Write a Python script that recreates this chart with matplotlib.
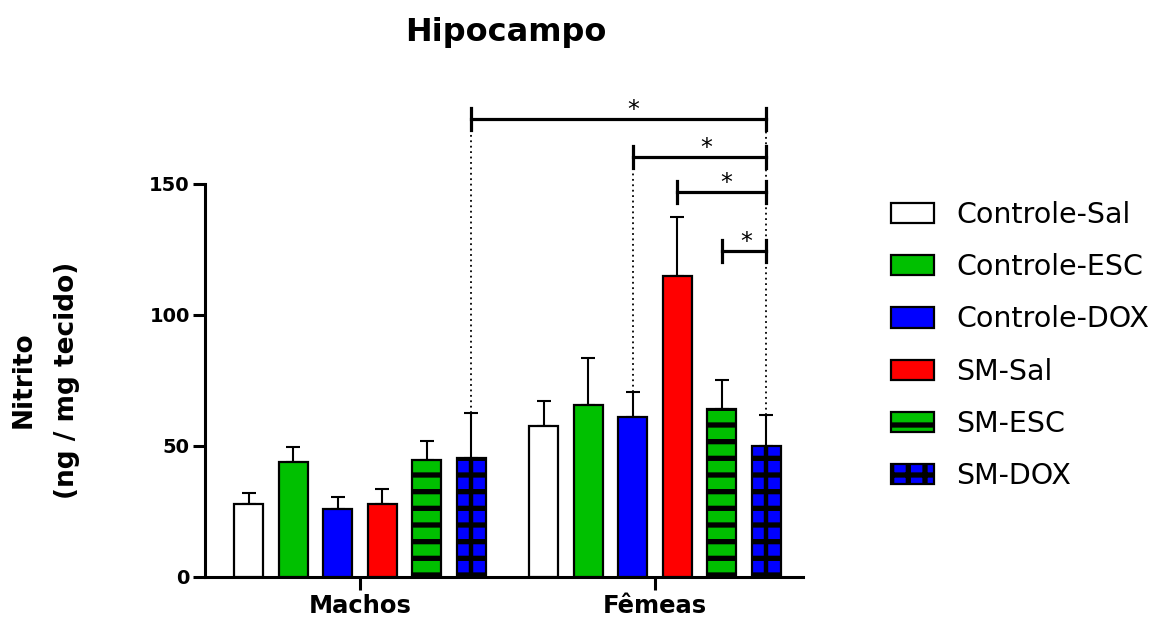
import numpy as np
import matplotlib
matplotlib.use("Agg")
import matplotlib.pyplot as plt
from matplotlib.patches import Patch

plt.rcParams['font.family'] = ['DejaVu Sans']
plt.rcParams['hatch.linewidth'] = 3.8

# nitrite levels (mean and SEM) per group
grupos = ['Controle-Sal', 'Controle-ESC', 'Controle-DOX', 'SM-Sal', 'SM-ESC', 'SM-DOX']
sexos = ['Machos', 'Fêmeas']
media_machos = [28, 44, 26, 28, 44.5, 45.5]
erro_machos = [4, 5.5, 4.5, 5.5, 7.5, 17]
media_femeas = [57.5, 65.5, 61, 115, 64, 50]
erro_femeas = [9.5, 18, 9.5, 22.5, 11, 12]

cores = ['white', '#00c000', '#0000ff', '#ff0000', '#00c000', '#0000ff']
hachuras = [None, None, None, None, '-', '-']

# significance brackets: (sex, group) at each end, bracket height
comparacoes = [((0, 5), (1, 5), 174.8),
               ((1, 2), (1, 5), 160.3),
               ((1, 3), (1, 5), 146.9),
               ((1, 4), (1, 5), 124.4)]

fig = plt.figure(figsize=(11.69, 6.21), dpi=100)
ax = fig.add_axes([0.1754, 0.0709, 0.5115, 0.6329])

passo = 0.151
larg = 0.098
medias = [media_machos, media_femeas]
erros = [erro_machos, erro_femeas]

def xpos(s, g):
    return s + (g - 2.5) * passo

for s in range(2):
    for g in range(6):
        x = xpos(s, g)
        m = medias[s][g]
        e = erros[s][g]
        ax.errorbar(x, m, yerr=[[0], [e]], color='black', lw=1.5,
                    capsize=4.7, capthick=1.5, zorder=2)
        ax.bar(x, m, width=larg, color=cores[g], edgecolor='black',
               linewidth=1.6, hatch=hachuras[g], zorder=3)
        if grupos[g] == 'SM-DOX':
            ax.plot([x, x], [0, m], color='black', lw=3.2, zorder=4,
                    solid_capstyle='butt')

# brackets with dotted guide lines
topo = lambda s, g: medias[s][g] + erros[s][g]
guias = {}
for (s1, g1), (s2, g2), h in comparacoes:
    x1, x2 = xpos(s1, g1), xpos(s2, g2)
    ax.plot([x1, x2], [h, h], color='black', lw=2.3, clip_on=False, zorder=5)
    for xx in (x1, x2):
        ax.plot([xx, xx], [h - 4.2, h + 4.2], color='black', lw=2.3,
                clip_on=False, zorder=5)
    ax.text(x1 + 0.55 * (x2 - x1), h - 1.0, '*', ha='center', va='bottom',
            fontsize=17, clip_on=False)
    for (s, g) in ((s1, g1), (s2, g2)):
        guias[(s, g)] = max(guias.get((s, g), 0), h)

for (s, g), h in guias.items():
    if grupos[g] == 'SM-Sal' or grupos[g] == 'SM-ESC':
        continue
    x = xpos(s, g)
    ax.plot([x, x], [topo(s, g), h], color='black', lw=1.3,
            linestyle=(0, (1, 2)), clip_on=False, zorder=1)

ax.set_xlim(-0.525, 1.502)
ax.set_ylim(0, 150)
ax.set_yticks([0, 50, 100, 150])
ax.set_xticks([0, 1])
ax.set_xticklabels(sexos, fontsize=17.5, fontweight='bold')
for lab in ax.get_yticklabels():
    lab.set_fontsize(14)
    lab.set_fontweight('bold')
ax.tick_params(axis='both', width=2.2, length=9, direction='out')
ax.tick_params(axis='x', pad=3)
ax.tick_params(axis='y', pad=2)
for lado in ['top', 'right']:
    ax.spines[lado].set_visible(False)
for lado in ['left', 'bottom']:
    ax.spines[lado].set_linewidth(2.2)

fig.text(45 / 1169, 1 - 380 / 621, 'Nitrito\n(ng / mg tecido)', rotation=90,
         ha='center', va='center', fontsize=19, fontweight='bold',
         linespacing=1.85)
fig.text(506 / 1169, 1 - 32 / 621, 'Hipocampo', ha='center', va='center',
         fontsize=23, fontweight='bold')

alcas = []
for g in range(6):
    h = hachuras[g]
    if grupos[g] == 'SM-DOX':
        h = '+'
    alcas.append(Patch(facecolor=cores[g], edgecolor='black', linewidth=1.6,
                       hatch=h, label=grupos[g]))
fig.legend(handles=alcas, loc='upper left',
           bbox_to_anchor=(891 / 1169, 1 - 201 / 621), frameon=False,
           fontsize=20.5, handlelength=1.5, handleheight=0.72,
           handletextpad=0.8, labelspacing=0.85, borderpad=0,
           borderaxespad=0)

fig.savefig('out.png', dpi=100)
